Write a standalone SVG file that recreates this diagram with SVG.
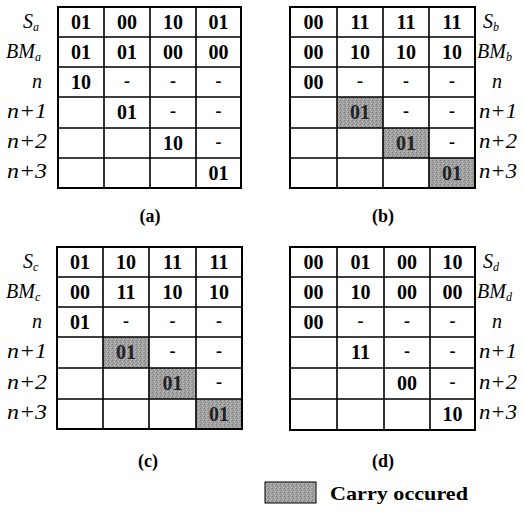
<svg xmlns="http://www.w3.org/2000/svg" width="524" height="512" viewBox="0 0 524 512">
<defs>
<pattern id="stip" width="4" height="4" patternUnits="userSpaceOnUse">
<rect width="4" height="4" fill="#a2a2a2"/>
<rect x="0" y="0" width="1" height="1" fill="#7a7a7a"/>
<rect x="2" y="1" width="1" height="1" fill="#c4c4c4"/>
<rect x="1" y="2" width="1" height="1" fill="#858585"/>
<rect x="3" y="3" width="1" height="1" fill="#bdbdbd"/>
<rect x="3" y="1" width="1" height="1" fill="#8c8c8c"/>
</pattern>
<style>
.grid{fill:none;stroke:#000;stroke-width:1.6}
.outer{fill:none;stroke:#000;stroke-width:2}
.v{font-family:'Liberation Serif','DejaVu Serif',serif;font-weight:bold;font-size:20px;text-anchor:middle;fill:#000}
.d{font-family:'Liberation Serif','DejaVu Serif',serif;font-weight:bold;font-size:18px;text-anchor:middle;fill:#000}
.sh{fill:#222}
.lb{font-family:'Liberation Serif','DejaVu Serif',serif;font-style:italic;font-size:20px;fill:#000}
.s{font-size:12px}
.cap{font-family:'Liberation Serif','DejaVu Serif',serif;font-weight:bold;font-size:18px;text-anchor:middle;fill:#000}
.leg{font-family:'Liberation Serif','DejaVu Serif',serif;font-weight:bold;font-size:19px;fill:#000}
.gray{fill:url(#stip)}
</style>
</defs>
<rect width="524" height="512" fill="#fff"/>

<!-- Table (a) -->
<g id="table-a">
<path class="grid" d="M104 7V188M150 7V188M196 7V188M58 37H241M58 67H241M58 97H241M58 128H241M58 158H241"/>
<rect class="outer" x="58" y="7" width="183" height="181"/>
<text class="lb" x="23" y="28">S<tspan class="s" dy="3">a</tspan></text>
<text class="lb" x="6" y="58">BM<tspan class="s" dy="3">a</tspan></text>
<text class="lb" x="32" y="88">n</text>
<text class="lb" x="7" y="118" textLength="40" lengthAdjust="spacingAndGlyphs">n+1</text>
<text class="lb" x="7" y="148" textLength="40" lengthAdjust="spacingAndGlyphs">n+2</text>
<text class="lb" x="7" y="178" textLength="40" lengthAdjust="spacingAndGlyphs">n+3</text>
<text class="v" x="81" y="29">01</text><text class="v" x="127" y="29">00</text><text class="v" x="173" y="29">10</text><text class="v" x="218.5" y="29">01</text>
<text class="v" x="81" y="59">01</text><text class="v" x="127" y="59">01</text><text class="v" x="173" y="59">00</text><text class="v" x="218.5" y="59">00</text>
<text class="v" x="81" y="89">10</text><text class="d" x="127" y="87">-</text><text class="d" x="173" y="87">-</text><text class="d" x="218.5" y="87">-</text>
<text class="v" x="127" y="119">01</text><text class="d" x="173" y="117">-</text><text class="d" x="218.5" y="117">-</text>
<text class="v" x="173" y="150">10</text><text class="d" x="218.5" y="148">-</text>
<text class="v" x="218.5" y="180">01</text>
</g>

<!-- Table (b) -->
<g id="table-b">
<rect class="gray" x="337" y="97" width="46" height="31"/>
<rect class="gray" x="383" y="128" width="46" height="30"/>
<rect class="gray" x="429" y="158" width="46" height="30"/>
<path class="grid" d="M337 7V188M383 7V188M429 7V188M290 37H475M290 67H475M290 97H475M290 128H475M290 158H475"/>
<rect class="outer" x="290" y="7" width="185" height="181"/>
<text class="lb" x="483" y="28">S<tspan class="s" dy="3">b</tspan></text>
<text class="lb" x="477" y="58">BM<tspan class="s" dy="3">b</tspan></text>
<text class="lb" x="492" y="88">n</text>
<text class="lb" x="479" y="118" textLength="38" lengthAdjust="spacingAndGlyphs">n+1</text>
<text class="lb" x="479" y="148" textLength="38" lengthAdjust="spacingAndGlyphs">n+2</text>
<text class="lb" x="479" y="178" textLength="38" lengthAdjust="spacingAndGlyphs">n+3</text>
<text class="v" x="313.5" y="29">00</text><text class="v" x="360" y="29">11</text><text class="v" x="406" y="29">11</text><text class="v" x="452" y="29">11</text>
<text class="v" x="313.5" y="59">00</text><text class="v" x="360" y="59">10</text><text class="v" x="406" y="59">10</text><text class="v" x="452" y="59">10</text>
<text class="v" x="313.5" y="89">00</text><text class="d" x="360" y="87">-</text><text class="d" x="406" y="87">-</text><text class="d" x="452" y="87">-</text>
<text class="v sh" x="360" y="119">01</text><text class="d" x="406" y="117">-</text><text class="d" x="452" y="117">-</text>
<text class="v sh" x="406" y="150">01</text><text class="d" x="452" y="148">-</text>
<text class="v sh" x="452" y="180">01</text>
</g>

<!-- Table (c) -->
<g id="table-c">
<rect class="gray" x="103" y="337" width="46" height="31"/>
<rect class="gray" x="149" y="368" width="47" height="31"/>
<rect class="gray" x="196" y="399" width="46" height="30"/>
<path class="grid" d="M103 247V429M149 247V429M196 247V429M57 277H242M57 307H242M57 337H242M57 368H242M57 399H242"/>
<rect class="outer" x="57" y="247" width="185" height="182"/>
<text class="lb" x="23" y="268">S<tspan class="s" dy="3">c</tspan></text>
<text class="lb" x="6" y="298">BM<tspan class="s" dy="3">c</tspan></text>
<text class="lb" x="32" y="328">n</text>
<text class="lb" x="7" y="358" textLength="40" lengthAdjust="spacingAndGlyphs">n+1</text>
<text class="lb" x="7" y="389" textLength="40" lengthAdjust="spacingAndGlyphs">n+2</text>
<text class="lb" x="7" y="419" textLength="40" lengthAdjust="spacingAndGlyphs">n+3</text>
<text class="v" x="80" y="269">01</text><text class="v" x="126" y="269">10</text><text class="v" x="172.5" y="269">11</text><text class="v" x="219" y="269">11</text>
<text class="v" x="80" y="299">00</text><text class="v" x="126" y="299">11</text><text class="v" x="172.5" y="299">10</text><text class="v" x="219" y="299">10</text>
<text class="v" x="80" y="329">01</text><text class="d" x="126" y="327">-</text><text class="d" x="172.5" y="327">-</text><text class="d" x="219" y="327">-</text>
<text class="v sh" x="126" y="359">01</text><text class="d" x="172.5" y="357">-</text><text class="d" x="219" y="357">-</text>
<text class="v sh" x="172.5" y="390">01</text><text class="d" x="219" y="388">-</text>
<text class="v sh" x="219" y="421">01</text>
</g>

<!-- Table (d) -->
<g id="table-d">
<path class="grid" d="M337 247V430M384 247V430M430 247V430M290 277H475M290 307H475M290 337H475M290 368H475M290 399H475"/>
<rect class="outer" x="290" y="247" width="185" height="183"/>
<text class="lb" x="483" y="268">S<tspan class="s" dy="3">d</tspan></text>
<text class="lb" x="477" y="298">BM<tspan class="s" dy="3">d</tspan></text>
<text class="lb" x="492" y="328">n</text>
<text class="lb" x="479" y="358" textLength="38" lengthAdjust="spacingAndGlyphs">n+1</text>
<text class="lb" x="479" y="389" textLength="38" lengthAdjust="spacingAndGlyphs">n+2</text>
<text class="lb" x="479" y="419" textLength="38" lengthAdjust="spacingAndGlyphs">n+3</text>
<text class="v" x="313.5" y="269">00</text><text class="v" x="360.5" y="269">01</text><text class="v" x="407" y="269">00</text><text class="v" x="452.5" y="269">10</text>
<text class="v" x="313.5" y="299">00</text><text class="v" x="360.5" y="299">10</text><text class="v" x="407" y="299">00</text><text class="v" x="452.5" y="299">00</text>
<text class="v" x="313.5" y="329">00</text><text class="d" x="360.5" y="327">-</text><text class="d" x="407" y="327">-</text><text class="d" x="452.5" y="327">-</text>
<text class="v" x="360.5" y="359">11</text><text class="d" x="407" y="357">-</text><text class="d" x="452.5" y="357">-</text>
<text class="v" x="407" y="390">00</text><text class="d" x="452.5" y="388">-</text>
<text class="v" x="452.5" y="421">10</text>
</g>

<!-- Captions -->
<g id="captions">
<text class="cap" x="150" y="222">(a)</text>
<text class="cap" x="383" y="222">(b)</text>
<text class="cap" x="148" y="467">(c)</text>
<text class="cap" x="383" y="467">(d)</text>
</g>

<!-- Legend -->
<g id="legend">
<rect class="gray" x="265" y="482" width="51" height="21" stroke="#000" stroke-width="1"/>
<text class="leg" x="330" y="500" textLength="138" lengthAdjust="spacingAndGlyphs">Carry occured</text>
</g>
</svg>
